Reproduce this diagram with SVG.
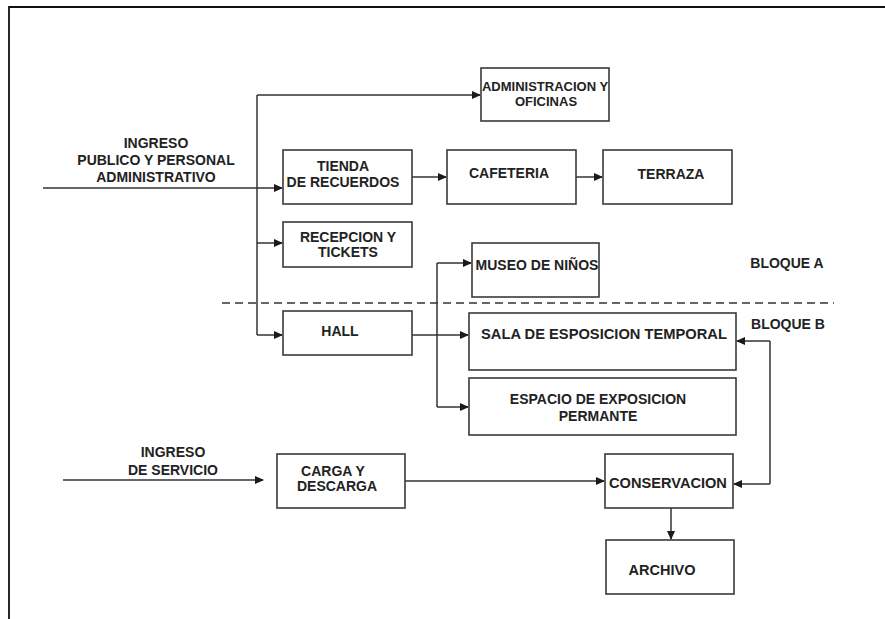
<svg xmlns="http://www.w3.org/2000/svg" width="885" height="619" viewBox="0 0 885 619">
<defs>
<marker id="ah" markerWidth="9" markerHeight="8" refX="8" refY="4" orient="auto" markerUnits="userSpaceOnUse">
<path d="M0,0 L9,4 L0,8 Z" fill="#1a1a1a"/>
</marker>
<style>
.box{fill:#fff;stroke:#3a3a3a;stroke-width:1.6}
.t{font-family:"Liberation Sans",Arial,sans-serif;font-weight:bold;font-size:14px;fill:#222;text-anchor:middle}
.c{fill:none;stroke:#333;stroke-width:1.5}
</style>
</defs>
<rect width="885" height="619" fill="#fff"/>
<path d="M9,619 V7 H885" fill="none" stroke="#111" stroke-width="1.8"/>

<g id="connectors">
<path class="c" d="M43,188 H282" marker-end="url(#ah)"/>
<path class="c" d="M257,95 V335"/>
<path class="c" d="M257,95 H480" marker-end="url(#ah)"/>
<path class="c" d="M257,243 H282" marker-end="url(#ah)"/>
<path class="c" d="M257,335 H282" marker-end="url(#ah)"/>
<path class="c" d="M412,177 H446" marker-end="url(#ah)"/>
<path class="c" d="M576,177 H602" marker-end="url(#ah)"/>
<path class="c" d="M412,335 H468" marker-end="url(#ah)"/>
<path class="c" d="M437,263 V407"/>
<path class="c" d="M437,263 H471" marker-end="url(#ah)"/>
<path class="c" d="M437,407 H468" marker-end="url(#ah)"/>
<path class="c" d="M63,480 H263" marker-end="url(#ah)"/>
<path class="c" d="M405,481 H604" marker-end="url(#ah)"/>
<path class="c" d="M770,341 V484"/>
<path class="c" d="M770,341 H737" marker-end="url(#ah)"/>
<path class="c" d="M770,484 H734" marker-end="url(#ah)"/>
<path class="c" d="M671,508 V539" marker-end="url(#ah)"/>
<path d="M222,303 H834" fill="none" stroke="#333" stroke-width="1.5" stroke-dasharray="8,5"/>
</g>

<g id="ingreso-publico">
<text class="t" x="156" y="148">INGRESO</text>
<text class="t" x="156" y="165">PUBLICO Y PERSONAL</text>
<text class="t" x="156" y="182">ADMINISTRATIVO</text>
</g>
<g id="admin">
<rect class="box" x="481" y="68" width="128" height="53"/>
<text class="t" x="545" y="91" style="font-size:13px">ADMINISTRACION Y</text>
<text class="t" x="546" y="106" style="font-size:13px">OFICINAS</text>
</g>
<g id="tienda">
<rect class="box" x="283" y="150" width="129" height="54"/>
<text class="t" x="343" y="171">TIENDA</text>
<text class="t" x="343" y="187">DE RECUERDOS</text>
</g>
<g id="cafeteria">
<rect class="box" x="447" y="150" width="129" height="54"/>
<text class="t" x="509" y="178">CAFETERIA</text>
</g>
<g id="terraza">
<rect class="box" x="603" y="150" width="129" height="54"/>
<text class="t" x="671" y="179">TERRAZA</text>
</g>
<g id="recepcion">
<rect class="box" x="283" y="222" width="129" height="45"/>
<text class="t" x="348" y="242">RECEPCION Y</text>
<text class="t" x="348" y="257">TICKETS</text>
</g>
<g id="museo">
<rect class="box" x="472" y="243" width="127" height="54"/>
<text class="t" x="537" y="270">MUSEO DE NIÑOS</text>
</g>
<g id="bloque-a">
<text class="t" x="787" y="268">BLOQUE A</text>
</g>
<g id="hall">
<rect class="box" x="283" y="311" width="129" height="44"/>
<text class="t" x="340" y="336">HALL</text>
</g>
<g id="sala">
<rect class="box" x="469" y="313" width="267" height="57"/>
<text class="t" x="604" y="339" style="font-size:14.7px">SALA DE ESPOSICION TEMPORAL</text>
</g>
<g id="bloque-b">
<text class="t" x="788" y="329">BLOQUE B</text>
</g>
<g id="espacio">
<rect class="box" x="469" y="378" width="267" height="57"/>
<text class="t" x="598" y="404">ESPACIO DE EXPOSICION</text>
<text class="t" x="598" y="421">PERMANTE</text>
</g>
<g id="ingreso-servicio">
<text class="t" x="173" y="457">INGRESO</text>
<text class="t" x="173" y="475">DE SERVICIO</text>
</g>
<g id="carga">
<rect class="box" x="277" y="454" width="128" height="54"/>
<text class="t" x="333" y="476">CARGA Y</text>
<text class="t" x="337" y="491">DESCARGA</text>
</g>
<g id="conservacion">
<rect class="box" x="605" y="454" width="128" height="54"/>
<text class="t" x="668" y="488" style="font-size:14.6px">CONSERVACION</text>
</g>
<g id="archivo">
<rect class="box" x="606" y="540" width="128" height="54"/>
<text class="t" x="662" y="575" style="font-size:14.5px">ARCHIVO</text>
</g>
</svg>
